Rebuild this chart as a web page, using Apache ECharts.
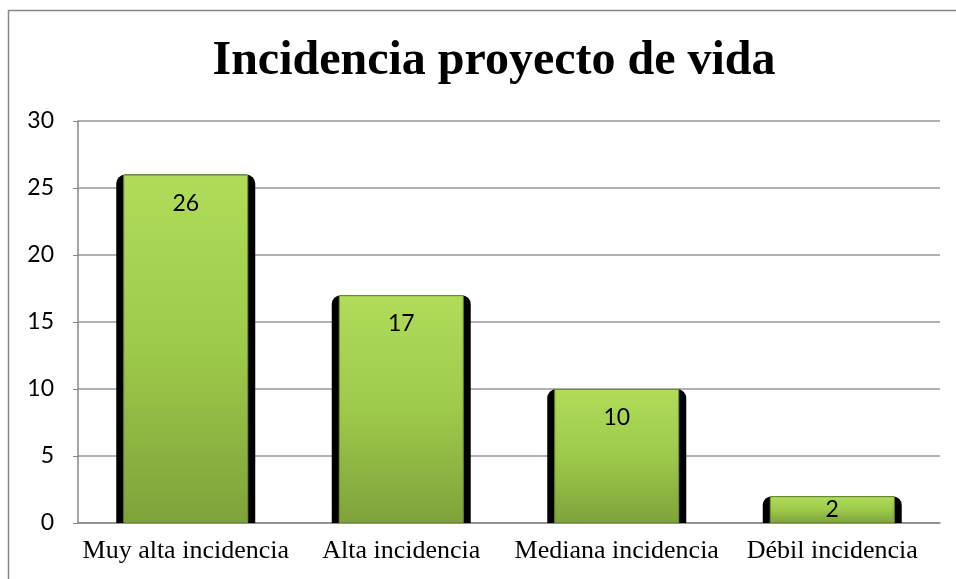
<!DOCTYPE html>
<html>
<head>
<meta charset="utf-8">
<script src="https://cdn.jsdelivr.net/npm/echarts@6/dist/echarts.min.js"></script>
<style>html,body{margin:0;padding:0;background:#fff}#c{width:956px;height:579px}</style>
</head>
<body>
<div id="c"></div>
<script>
const categories = ['Muy alta incidencia', 'Alta incidencia', 'Mediana incidencia', 'Débil incidencia'];
const values = [26, 17, 10, 2];
const yTicks = [0, 5, 10, 15, 20, 25, 30];

const chart = echarts.init(document.getElementById('c'));
const green = new echarts.graphic.LinearGradient(0, 0, 0, 1, [
  {offset: 0, color: '#b0dc5a'},
  {offset: 0.5, color: '#9dca4a'},
  {offset: 1, color: '#7fa23a'}
]);
chart.setOption({
  animation: false,
  title: {
    text: 'Incidencia proyecto de vida',
    left: 489, top: 33, textAlign: 'center',
    textStyle: {fontFamily: 'Liberation Serif', fontWeight: 'bold', fontSize: 48, color: '#000'}
  },
  graphic: [{
    type: 'rect', shape: {x: 8.5, y: 10.5, width: 1000, height: 1000},
    style: {fill: 'none', stroke: '#888', lineWidth: 1.5}, z: -1
  }],
  grid: {left: 78, right: 16, top: 121, bottom: 56},
  xAxis: [{
    type: 'category', data: categories,
    axisLine: {lineStyle: {color: '#888', width: 1.5}},
    axisTick: {show: false},
    axisLabel: {fontFamily: 'Liberation Serif', fontSize: 26, color: '#000', margin: 15, interval: 0}
  }, {
    type: 'category', data: categories, position: 'bottom', show: false
  }],
  yAxis: {
    type: 'value', min: yTicks[0], max: yTicks[yTicks.length - 1], interval: 5,
    axisLine: {show: true, lineStyle: {color: '#888', width: 1.5}},
    axisTick: {show: true, length: 5, lineStyle: {color: '#888'}},
    splitLine: {lineStyle: {color: '#999', width: 1.5}},
    axisLabel: {fontFamily: 'Lato', fontSize: 23, color: '#000', margin: 24}
  },
  series: [{
    type: 'bar', data: values, barWidth: 139, xAxisIndex: 0,
    itemStyle: {color: '#000', borderRadius: [9, 9, 0, 0]},
    silent: true, z: 2
  }, {
    type: 'bar', barWidth: 125, xAxisIndex: 1,
    data: values.map(v => ({value: v, label: v < 5 ? {position: 'inside'} : {}})),
    itemStyle: {color: green, borderColor: '#6e8f2e', borderWidth: 1},
    label: {show: true, position: 'insideTop', distance: 17, fontFamily: 'Lato', fontSize: 23, color: '#000'},
    z: 3
  }]
});
</script>
</body>
</html>
